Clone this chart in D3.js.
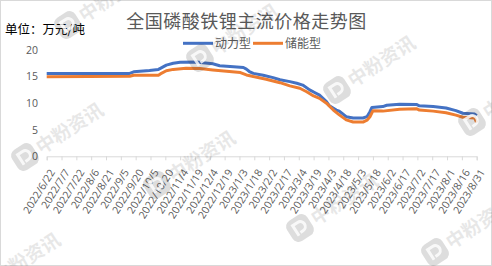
<!DOCTYPE html>
<html><head><meta charset="utf-8">
<script src="https://cdn.jsdelivr.net/npm/d3@7/dist/d3.min.js"></script>
<style>
html,body{margin:0;padding:0;background:#fff;}
svg{display:block;}
</style></head>
<body>
<svg id="chart" width="492" height="266"></svg>
<script>
// ---- data ----
const titleText = "全国磷酸铁锂主流价格走势图";
const unitText = "单位：万元/吨";
const seriesNames = ["动力型", "储能型"];
const seriesColors = ["#4472C4", "#ED7D31"];

const powerDates = ["2022/6/22","2022/9/14","2022/9/18","2022/10/4","2022/10/13","2022/10/15","2022/10/21","2022/10/28","2022/11/4","2022/11/21","2022/11/27","2022/12/7","2022/12/14","2022/12/28","2023/1/7","2023/1/10","2023/1/13","2023/1/17","2023/1/27","2023/2/6","2023/2/13","2023/2/23","2023/3/2","2023/3/8","2023/3/15","2023/3/20","2023/3/25","2023/4/1","2023/4/4","2023/4/11","2023/4/14","2023/4/21","2023/4/28","2023/5/8","2023/5/12","2023/5/15","2023/5/17","2023/5/28","2023/6/1","2023/6/14","2023/7/1","2023/7/4","2023/7/18","2023/7/31","2023/8/10","2023/8/17","2023/8/29","2023/8/31"];
const powerValues = [15.6,15.6,15.9,16.15,16.35,16.55,17.15,17.5,17.7,17.75,17.6,17.4,17.05,16.85,16.7,16.4,15.95,15.6,15.25,14.8,14.4,14.05,13.75,13.4,12.5,12.0,11.5,10.3,9.5,8.7,8.5,7.45,7.2,7.2,7.45,8.4,9.2,9.35,9.6,9.8,9.75,9.5,9.35,9.1,8.6,8.1,7.95,7.65];

const storageDates = ["2022/6/22","2022/9/14","2022/9/18","2022/10/13","2022/10/15","2022/10/21","2022/10/28","2022/11/10","2022/11/24","2022/12/7","2022/12/21","2023/1/4","2023/1/10","2023/1/17","2023/1/30","2023/2/13","2023/2/23","2023/3/5","2023/3/12","2023/3/19","2023/3/25","2023/4/1","2023/4/8","2023/4/14","2023/4/21","2023/4/28","2023/5/8","2023/5/12","2023/5/15","2023/5/18","2023/5/28","2023/6/14","2023/7/1","2023/7/4","2023/7/18","2023/7/31","2023/8/10","2023/8/17","2023/8/29","2023/8/31"];
const storageValues = [14.95,15.05,15.25,15.25,15.5,16.1,16.35,16.55,16.5,16.25,16.0,15.75,15.3,15.0,14.5,13.85,13.25,12.8,12.15,11.35,10.9,10.0,8.7,7.8,6.85,6.45,6.45,6.8,7.45,8.55,8.5,8.85,8.95,8.7,8.5,8.2,7.75,7.35,7.2,6.35];

const xTickLabels = ["2022/6/22","2022/7/7","2022/7/22","2022/8/6","2022/8/21","2022/9/5","2022/9/20","2022/10/5","2022/10/20","2022/11/4","2022/11/19","2022/12/4","2022/12/19","2023/1/3","2023/1/18","2023/2/2","2023/2/17","2023/3/4","2023/3/19","2023/4/3","2023/4/18","2023/5/3","2023/5/18","2023/6/2","2023/6/17","2023/7/2","2023/7/17","2023/8/1","2023/8/16","2023/8/31"];
const yTicks = [0, 5, 10, 15, 20];
const watermarkText = "中粉资讯";

// ---- drawing ----
const parse = d3.utcParse("%Y/%m/%d");
const svg = d3.select("#chart");
const W = 492, H = 266;
const cjk = "'Noto Sans CJK SC', 'Noto Sans', sans-serif";
const num = "'Open Sans', 'Noto Sans', 'DejaVu Sans', sans-serif";

svg.append("rect").attr("x",0.5).attr("y",0.5).attr("width",W-1).attr("height",H-1)
  .attr("fill","#fff").attr("stroke","#d9d9d9");

const x = d3.scaleUtc()
  .domain([parse(xTickLabels[0]), parse(xTickLabels[xTickLabels.length-1])])
  .range([46.7, 476.7]);
const y = d3.scaleLinear().domain([0, 20]).range([156.3, 50]);

// y axis labels
const yAxis = d3.axisLeft(y).tickValues(yTicks).tickSize(0).tickPadding(0);
const gy = svg.append("g").attr("transform","translate(38,0)").call(yAxis);
gy.select(".domain").remove();
gy.selectAll("text").attr("fill","#595959").style("font-family",num).style("font-size","10.5px");

// x axis
const xAxis = d3.axisBottom(x).tickValues(xTickLabels.map(parse)).tickSize(4).tickFormat((d,i)=>xTickLabels[i]);
const gx = svg.append("g").attr("transform",`translate(0,${y(0)})`).call(xAxis);
gx.select(".domain").attr("stroke","#d9d9d9");
gx.selectAll(".tick line").attr("stroke","#d9d9d9");
gx.selectAll("text")
  .attr("fill","#595959").style("font-family",num).style("font-size","10.5px")
  .attr("text-anchor","end")
  .attr("dy","0.35em")
  .attr("y",0).attr("x",0)
  .attr("transform","translate(5,14) rotate(-58)");

// lines
const line = d3.line().x(d=>x(d[0])).y(d=>y(d[1]));
const powerData = powerDates.map((d,i)=>[parse(d), powerValues[i]]);
const storageData = storageDates.map((d,i)=>[parse(d), storageValues[i]]);
[[powerData,0],[storageData,1]].forEach(([data,i])=>{
  svg.append("path").datum(data).attr("d",line).attr("fill","none")
    .attr("stroke",seriesColors[i]).attr("stroke-width",3).attr("stroke-linejoin","round");
});

// title, unit
svg.append("text").attr("x",246.5).attr("y",27.5).attr("text-anchor","middle")
  .style("font-family",cjk).style("font-size","18px").attr("fill","#595959")
  .style("letter-spacing","0.5px").text(titleText);
svg.append("text").attr("x",5).attr("y",33.5)
  .style("font-family",cjk).style("font-size","12.5px").attr("fill","#000").text(unitText);

// legend
const legX = [183, 253];
seriesNames.forEach((n,i)=>{
  svg.append("line").attr("x1",legX[i]).attr("x2",legX[i]+30).attr("y1",43.3).attr("y2",43.3)
    .attr("stroke",seriesColors[i]).attr("stroke-width",3);
  svg.append("text").attr("x",legX[i]+32).attr("y",47.5)
    .style("font-family",cjk).style("font-size","12px").attr("fill","#595959").text(n);
});

// watermarks
const wmPos = [[68,25],[200,58],[337,90],[472,122],[25,157],[157,185],[300,228],[435,252],[-18,287]];
wmPos.forEach(p=>{
  const g = svg.append("g").attr("transform",`translate(${p[0]},${p[1]}) rotate(-33)`);
  g.append("rect").attr("x",-12).attr("y",-12).attr("width",24).attr("height",24).attr("rx",7)
    .attr("fill","#333").attr("opacity",0.17);
  g.append("path").attr("d","M-5,6 L-5,-6 L1,-6 A5,5 0 0 1 1,4 L-2,4").attr("fill","none")
    .attr("stroke","#fff").attr("stroke-width",3).attr("opacity",0.8);
  g.append("text").attr("x",15).attr("y",7).style("font-family",cjk).style("font-size","19px").style("font-weight","bold")
    .attr("fill","#333").attr("opacity",0.11).text(watermarkText);
});
</script>
</body></html>
